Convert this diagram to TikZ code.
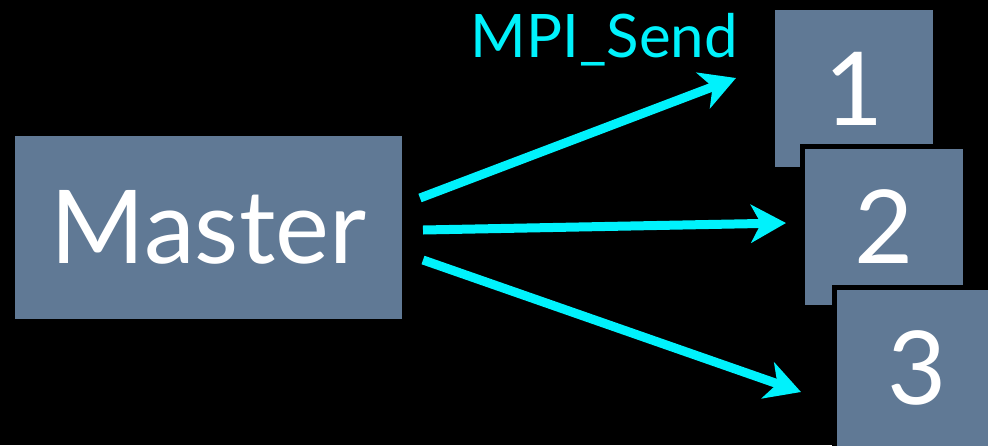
\documentclass[tikz,border=0pt]{standalone}
\usepackage{fontspec}
\setmainfont{Lato}
\usetikzlibrary{arrows.meta}
\definecolor{slate}{RGB}{96,121,149}
\definecolor{arrowcyan}{RGB}{0,242,252}
\begin{document}
\begin{tikzpicture}[x=1pt,y=-1pt,
  box/.style={fill=slate, inner sep=0pt, text=white, font=\fontsize{102}{110}\selectfont},
  gapbox/.style={box, preaction={draw=black, line width=10pt}},
  sendarrow/.style={draw=arrowcyan, line width=9pt, -{Stealth[length=35pt,width=38pt,inset=10pt]}}]
\fill[black] (0,0) rectangle (988,445);
\useasboundingbox (0,0) rectangle (988,445);
\begin{scope}
\clip (0,0) rectangle (988,445);
\node[box, minimum width=387pt, minimum height=183pt] (master) at (208.5,227.5) {Master};
\node[box, minimum width=158pt, minimum height=157pt] (w1) at (854,88.5) {1};
\node[gapbox, minimum width=158pt, minimum height=156pt] (w2) at (884,227) {2};
\node[gapbox, minimum width=160pt, minimum height=156pt] (w3) at (917,368) {3};
\end{scope}
\coordinate (s1) at (420,198);
\coordinate (t1) at (736,78);
\coordinate (s2) at (423,230);
\coordinate (t2) at (786,223);
\coordinate (s3) at (423,260);
\coordinate (t3) at (801,392);
\draw[sendarrow] (s1) -- (t1);
\draw[sendarrow] (s2) -- (t2);
\draw[sendarrow] (s3) -- (t3);
\node[text=arrowcyan, font=\fontsize{60}{64}\selectfont, anchor=base, inner sep=0pt] (lbl) at (604,57) {MPI\_Send};
\end{tikzpicture}
\end{document}
